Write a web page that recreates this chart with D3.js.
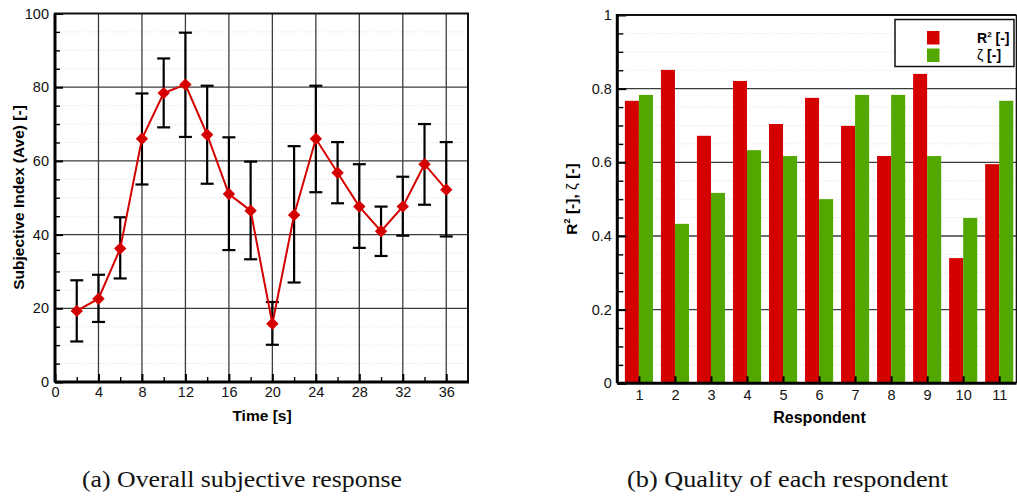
<!DOCTYPE html>
<html><head><meta charset="utf-8">
<script src="https://cdn.jsdelivr.net/npm/d3@7"></script>
<style>
html,body{margin:0;padding:0;background:#fff;}
svg{display:block;}
</style></head>
<body>
<svg id="c" width="1017" height="496" font-family="Liberation Sans, Arial, sans-serif"></svg>
<script>
// ---------- data: left chart ----------
const times   = [2,4,6,8,10,12,14,16,18,20,22,24,26,28,30,32,34,36];
const subjAve = [19.3,22.6,36.2,66.0,78.4,80.7,67.1,51.0,46.5,15.8,45.3,66.0,56.8,47.6,40.9,47.6,59.1,52.2];
const subjHi  = [27.6,29.1,44.7,78.3,87.8,94.8,80.4,66.4,59.8,21.7,64.0,80.4,65.1,59.1,47.6,55.7,70.0,65.1];
const subjLo  = [11.0,16.3,28.1,53.6,69.1,66.5,53.8,35.8,33.3,10.1,27.0,51.5,48.5,36.4,34.2,39.7,48.1,39.5];
const leftXTicks = [0,4,8,12,16,20,24,28,32,36];
const leftYTicks = [0,20,40,60,80,100];

// ---------- data: right chart ----------
const respondents = [1,2,3,4,5,6,7,8,9,10,11];
const r2Values   = [0.767,0.851,0.672,0.821,0.704,0.775,0.699,0.617,0.840,0.340,0.595];
const zetaValues = [0.783,0.433,0.517,0.633,0.617,0.500,0.783,0.783,0.617,0.449,0.767];
const rightYTicks = [0,0.2,0.4,0.6,0.8,1];
const rightYLabels = ["0","0.2","0.4","0.6","0.8","1"];

const RED = "#d40000", GREEN = "#52a800";
const SANS = '"Liberation Sans", Arial, sans-serif';

const svg = d3.select("#c");
svg.append("rect").attr("width",1017).attr("height",496).attr("fill","#fff");

// ================= LEFT CHART =================
const L = {l:55, r:468, t:13.5, b:382};
const xL = d3.scaleLinear().domain([0,38]).range([L.l, L.r]);
const yL = d3.scaleLinear().domain([0,100]).range([L.b, L.t]);
const gL = svg.append("g");

// minor dotted grid
gL.append("g").selectAll("line").data(d3.range(5,100,5).filter(v=>v%20!==0)).join("line")
  .attr("x1",L.l).attr("x2",L.r).attr("y1",d=>yL(d)).attr("y2",d=>yL(d))
  .attr("stroke","#dcdcdc").attr("stroke-width",1).attr("stroke-dasharray","1,2");
// major grid
gL.append("g").selectAll("line").data(leftXTicks.filter(d=>d>0)).join("line")
  .attr("x1",d=>xL(d)).attr("x2",d=>xL(d)).attr("y1",L.t).attr("y2",L.b)
  .attr("stroke","#3c3c3c").attr("stroke-width",1.3);
gL.append("g").selectAll("line").data(leftYTicks.filter(d=>d>0&&d<100)).join("line")
  .attr("x1",L.l).attr("x2",L.r).attr("y1",d=>yL(d)).attr("y2",d=>yL(d))
  .attr("stroke","#3c3c3c").attr("stroke-width",1.3);

// axes (inward ticks)
const axL = gL.append("g").attr("transform",`translate(${L.l},0)`)
  .call(d3.axisLeft(yL).tickValues(leftYTicks).tickSizeInner(-8).tickSizeOuter(0).tickPadding(6));
const axLm = gL.append("g").attr("transform",`translate(${L.l},0)`)
  .call(d3.axisLeft(yL).tickValues(d3.range(5,100,5).filter(v=>v%20!==0)).tickSizeInner(-5).tickSizeOuter(0).tickFormat(""));
const axB = gL.append("g").attr("transform",`translate(0,${L.b})`)
  .call(d3.axisBottom(xL).tickValues(leftXTicks).tickSizeInner(-8).tickSizeOuter(0).tickPadding(5));
const axBm = gL.append("g").attr("transform",`translate(0,${L.b})`)
  .call(d3.axisBottom(xL).tickValues(d3.range(2,38,4)).tickSizeInner(-5).tickSizeOuter(0).tickFormat(""));
[axL,axLm,axB,axBm].forEach(a=>{a.select(".domain").remove();a.attr("font-family",null);});
[axL,axB].forEach(a=>a.selectAll(".tick line").attr("stroke","#000").attr("stroke-width",2));
[axLm,axBm].forEach(a=>a.selectAll(".tick line").attr("stroke","#000").attr("stroke-width",1.4));
[axL,axB].forEach(a=>a.selectAll("text").attr("font-size",14.5).attr("fill","#111").style("font-family",SANS));

// frame
gL.append("rect").attr("x",L.l).attr("y",L.t).attr("width",L.r-L.l).attr("height",L.b-L.t)
  .attr("fill","none").attr("stroke","#111").attr("stroke-width",2);
gL.append("line").attr("x1",L.l).attr("x2",L.l).attr("y1",L.t).attr("y2",L.b).attr("stroke","#000").attr("stroke-width",3);
gL.append("line").attr("x1",L.l).attr("x2",L.r+1).attr("y1",L.b).attr("y2",L.b).attr("stroke","#000").attr("stroke-width",3);

// error bars
const eb = gL.append("g").attr("stroke","#000").attr("stroke-width",2.2);
times.forEach((t,i)=>{
  const x = xL(t);
  eb.append("line").attr("x1",x).attr("x2",x).attr("y1",yL(subjHi[i])).attr("y2",yL(subjLo[i]));
  eb.append("line").attr("x1",x-6.5).attr("x2",x+6.5).attr("y1",yL(subjHi[i])).attr("y2",yL(subjHi[i]));
  eb.append("line").attr("x1",x-6.5).attr("x2",x+6.5).attr("y1",yL(subjLo[i])).attr("y2",yL(subjLo[i]));
});
// line
gL.append("path").datum(times.map((t,i)=>[t,subjAve[i]]))
  .attr("d",d3.line().x(d=>xL(d[0])).y(d=>yL(d[1])))
  .attr("fill","none").attr("stroke",RED).attr("stroke-width",2);
// diamonds
gL.append("g").selectAll("path").data(times.map((t,i)=>[t,subjAve[i]])).join("path")
  .attr("d",d=>{const x=xL(d[0]),y=yL(d[1]),s=6.2;return `M${x},${y-s}L${x+s},${y}L${x},${y+s}L${x-s},${y}Z`;})
  .attr("fill",RED);

// axis titles
gL.append("text").attr("transform",`translate(24,197.5) rotate(-90)`).attr("text-anchor","middle")
  .attr("font-size",15.5).attr("font-weight","bold").text("Subjective Index (Ave) [-]");
gL.append("text").attr("x",262).attr("y",421).attr("text-anchor","middle")
  .attr("font-size",15.5).attr("font-weight","bold").text("Time [s]");

// ================= RIGHT CHART =================
const R = {l:617.3, r:1016.5, t:15, b:383.3};
const xR = d3.scaleLinear().domain([0.4,11.48]).range([R.l, R.r]);
const yR = d3.scaleLinear().domain([0,1]).range([R.b, R.t]);
const gR = svg.append("g");
const bw = 0.39; // bar width in respondent units

const minorR = d3.range(0.05,1,0.05).filter(v=>Math.abs(v*5-Math.round(v*5))>1e-6);
gR.append("g").selectAll("line").data(minorR).join("line")
  .attr("x1",R.l).attr("x2",R.r).attr("y1",d=>yR(d)).attr("y2",d=>yR(d))
  .attr("stroke","#dcdcdc").attr("stroke-width",1).attr("stroke-dasharray","1,2");
gR.append("g").selectAll("line").data(rightYTicks.filter(d=>d>0&&d<1)).join("line")
  .attr("x1",R.l).attr("x2",R.r).attr("y1",d=>yR(d)).attr("y2",d=>yR(d))
  .attr("stroke","#3c3c3c").attr("stroke-width",1.3);

// bars
gR.append("g").selectAll("rect").data(respondents).join("rect")
  .attr("x",(d)=>xR(d-bw)).attr("width",d=>xR(d)-xR(d-bw))
  .attr("y",(d,i)=>yR(r2Values[i])).attr("height",(d,i)=>yR(0)-yR(r2Values[i]))
  .attr("fill",RED);
gR.append("g").selectAll("rect").data(respondents).join("rect")
  .attr("x",(d)=>xR(d)).attr("width",d=>xR(d+bw)-xR(d))
  .attr("y",(d,i)=>yR(zetaValues[i])).attr("height",(d,i)=>yR(0)-yR(zetaValues[i]))
  .attr("fill",GREEN);

const ayR = gR.append("g").attr("transform",`translate(${R.l},0)`)
  .call(d3.axisLeft(yR).tickValues(rightYTicks).tickFormat((d,i)=>rightYLabels[i]).tickSizeInner(-9).tickSizeOuter(0).tickPadding(5.5));
const ayRm = gR.append("g").attr("transform",`translate(${R.l},0)`)
  .call(d3.axisLeft(yR).tickValues(minorR).tickSizeInner(-6).tickSizeOuter(0).tickFormat(""));
const axR = gR.append("g").attr("transform",`translate(0,${R.b})`)
  .call(d3.axisBottom(xR).tickValues(respondents).tickSizeInner(-7).tickSizeOuter(0).tickPadding(6));
[ayR,ayRm,axR].forEach(a=>{a.select(".domain").remove();a.attr("font-family",null);});
[ayR,axR].forEach(a=>a.selectAll(".tick line").attr("stroke","#000").attr("stroke-width",2));
ayRm.selectAll(".tick line").attr("stroke","#000").attr("stroke-width",1.4);
[ayR,axR].forEach(a=>a.selectAll("text").attr("font-size",14.5).attr("fill","#111").style("font-family",SANS));

// frame
gR.append("line").attr("x1",R.l).attr("x2",R.r).attr("y1",R.t).attr("y2",R.t).attr("stroke","#111").attr("stroke-width",2);
gR.append("line").attr("x1",R.r).attr("x2",R.r).attr("y1",R.t).attr("y2",R.b).attr("stroke","#111").attr("stroke-width",1.6);
gR.append("line").attr("x1",R.l).attr("x2",R.l).attr("y1",R.t-1).attr("y2",R.b).attr("stroke","#000").attr("stroke-width",3);
gR.append("line").attr("x1",R.l).attr("x2",R.r).attr("y1",R.b).attr("y2",R.b).attr("stroke","#000").attr("stroke-width",3);

// legend
const lg = gR.append("g");
lg.append("rect").attr("x",895).attr("y",19.5).attr("width",119).attr("height",47)
  .attr("fill","#fff").attr("stroke","#111").attr("stroke-width",1.5);
lg.append("rect").attr("x",927).attr("y",31).attr("width",12.5).attr("height",13.5).attr("fill",RED);
lg.append("rect").attr("x",927).attr("y",48.5).attr("width",12.5).attr("height",13.5).attr("fill",GREEN);
const t1 = lg.append("text").attr("x",977).attr("y",43).attr("font-size",14).attr("font-weight","bold");
t1.append("tspan").text("R");
t1.append("tspan").attr("font-size",8).attr("dy",-6).text("2");
t1.append("tspan").attr("dy",6).text(" [-]");
const t2 = lg.append("text").attr("x",977).attr("y",60).attr("font-size",14).attr("font-weight","bold");
t2.append("tspan").attr("font-weight","normal").text("ζ");
t2.append("tspan").text(" [-]");

// axis titles
const yt = gR.append("text").attr("transform",`translate(577,199) rotate(-90)`).attr("text-anchor","middle")
  .attr("font-size",15.5).attr("font-weight","bold");
yt.append("tspan").text("R");
yt.append("tspan").attr("font-size",9).attr("dy",-7).text("2");
yt.append("tspan").attr("dy",7).text(" [-], ");
yt.append("tspan").attr("font-weight","normal").text("ζ");
yt.append("tspan").text(" [-]");
gR.append("text").attr("x",819.5).attr("y",423).attr("text-anchor","middle")
  .attr("font-size",16).attr("font-weight","bold").text("Respondent");

// ================= CAPTIONS =================
const capFont = '"Liberation Serif", "DejaVu Serif", serif';
svg.append("text").attr("x",82).attr("y",487).style("font-family",capFont).attr("font-size",23)
  .attr("textLength",320).attr("lengthAdjust","spacingAndGlyphs").attr("fill","#111")
  .text("(a) Overall subjective response");
svg.append("text").attr("x",627).attr("y",487).style("font-family",capFont).attr("font-size",23)
  .attr("textLength",321).attr("lengthAdjust","spacingAndGlyphs").attr("fill","#111")
  .text("(b) Quality of each respondent");
</script>
</body></html>
